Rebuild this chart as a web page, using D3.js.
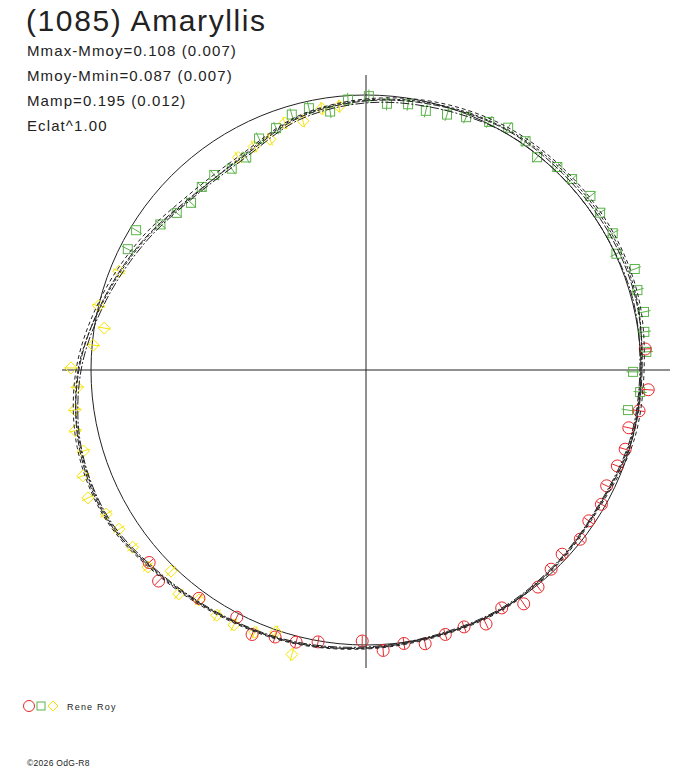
<!DOCTYPE html>
<html>
<head>
<meta charset="utf-8">
<script src="https://cdn.jsdelivr.net/npm/d3@7"></script>
<style>
  body { margin: 0; background: #fff; }
  text { font-family: "Liberation Sans", Arial, sans-serif; fill: #222; }
</style>
</head>
<body>
<svg id="chart" width="688" height="768"></svg>
<script>
// Titre et statistiques
const title = "(1085) Amaryllis";
const statLines = [
  "Mmax-Mmoy=0.108 (0.007)",
  "Mmoy-Mmin=0.087 (0.007)",
  "Mamp=0.195 (0.012)",
  "Eclat^1.00"
];
const observer = "Rene Roy";
const copyright = "\u00a92026 OdG-R8";

// Observations : [phase (deg), delta mag]
const redObs = [
  [221.6,-0.068],[225.5,-0.095],[233.8,-0.036],[242.4,-0.018],[246.7,-0.059],
  [251.2,-0.032],[255.6,-0.027],[260.0,-0.005],[269.2,0.018],[273.5,-0.027],
  [277.9,-0.005],[282.2,-0.023],[286.7,-0.005],[290.9,0.000],[295.3,-0.027],
  [299.7,0.005],[304.0,-0.032],[308.4,-0.009],[312.9,0.014],[316.8,0.027],
  [321.7,0.009],[325.9,0.027],[330.3,0.018],[334.3,0.036],[339.1,0.027],
  [343.0,0.018],[347.6,0.027],[351.5,-0.005],[356.0,-0.036],[4.3,-0.023]
];
const greenObs = [
  [351.3,0.045],[355.4,0.000],[359.6,0.036],[3.7,-0.027],[7.8,-0.027],
  [11.8,-0.041],[16.4,-0.036],[20.6,-0.055],[24.9,-0.005],[29.0,-0.032],
  [33.9,-0.032],[37.8,-0.041],[42.8,-0.027],[46.7,-0.018],[51.2,0.009],
  [55.1,-0.018],[59.6,-0.027],[63.6,-0.009],[68.4,0.014],[72.4,0.032],
  [77.0,0.041],[81.0,0.027],[85.5,0.036],[89.4,0.005],[93.8,0.018],
  [97.9,0.064],[102.3,0.032],[106.2,0.041],[110.4,0.077],[114.8,0.091],
  [119.4,0.141],[123.7,0.150],[127.9,0.127],[131.9,0.132],[136.3,0.150],
  [140.3,0.132],[144.7,0.105],[148.7,0.027],[153.1,0.036]
];
const yellowObs = [
  [95.8,0.045],[99.6,0.045],[104.2,0.082],[108.2,0.068],[112.6,0.114],
  [116.6,0.114],[121.0,0.123],[158.2,0.041],[166.5,0.000],[170.9,0.045],
  [174.8,0.005],[179.6,-0.091],[183.4,-0.064],[187.8,-0.086],[191.8,-0.100],
  [196.0,-0.086],[200.5,-0.123],[204.7,-0.141],[209.0,-0.100],[212.8,-0.086],
  [217.2,-0.082],[222.1,-0.086],[225.9,-0.023],[230.1,-0.077],[234.0,-0.041],
  [238.7,-0.055],[242.6,-0.055],[247.0,-0.045],[251.0,-0.009],[255.4,-0.086]
];
const obsErr = { red: 0.025, green: 0.03, yellow: 0.03 };

// Courbes ajustées (phase en degrés)
const curvePhases = [0,15,30,45,60,75,90,105,120,135,150,165,180,195,210,225,240,255,270,285,300,315,330,345];
const curveA = [-0.005,-0.018,-0.018,-0.014,-0.014,0.005,0.027,0.064,0.132,0.132,0.077,0.014,-0.055,-0.100,-0.109,-0.068,-0.045,-0.032,-0.014,0.000,0.000,0.014,0.023,0.000];
const curveB = [-0.014,-0.032,-0.036,-0.032,-0.027,-0.009,0.018,0.055,0.118,0.118,0.064,0.000,-0.068,-0.109,-0.114,-0.077,-0.050,-0.036,-0.018,-0.005,-0.005,0.009,0.018,-0.009];
const curveC = [0.005,-0.005,0.000,0.000,0.000,0.018,0.036,0.073,0.141,0.141,0.091,0.027,-0.045,-0.091,-0.100,-0.064,-0.041,-0.027,-0.009,0.005,0.005,0.018,0.027,0.009];
const curveD = [0.000,-0.023,-0.027,-0.023,-0.018,0.000,0.023,0.059,0.127,0.136,0.082,0.018,-0.059,-0.095,-0.105,-0.073,-0.045,-0.032,-0.014,0.000,0.000,0.014,0.023,0.005];

const colors = { red: "#e8262a", green: "#5cb34a", yellow: "#f7e400" };

const svg = d3.select("#chart");
const cx = 366, cy = 370;

// magnitude -> rayon (plus brillant vers l'extérieur)
const rScale = d3.scaleLinear().domain([0, 0.1]).range([275, 253]);
const aScale = d3.scaleLinear().domain([0, 360]).range([0, 2 * Math.PI]);

function pos(phase, mag) {
  const a = aScale(phase), r = rScale(mag);
  return [cx + r * Math.cos(a), cy - r * Math.sin(a)];
}

const g = svg.append("g");

// Axes
g.append("line").attr("x1", 62).attr("x2", 670).attr("y1", cy).attr("y2", cy)
  .attr("stroke", "#222").attr("stroke-width", 1);
g.append("line").attr("x1", cx).attr("x2", cx).attr("y1", 75).attr("y2", 668)
  .attr("stroke", "#222").attr("stroke-width", 1);

// Cercle de référence (Mmoy)
g.append("circle").attr("cx", cx).attr("cy", cy).attr("r", rScale(0))
  .attr("fill", "none").attr("stroke", "#222").attr("stroke-width", 1);

// Observations
function drawSeries(data, color, err, shape) {
  const sg = g.append("g").attr("stroke", color).attr("fill", "none").attr("stroke-width", 1);
  data.forEach(d => {
    const p0 = pos(d[0], d[1] - err), p1 = pos(d[0], d[1] + err);
    sg.append("line").attr("x1", p0[0]).attr("y1", p0[1]).attr("x2", p1[0]).attr("y2", p1[1]);
    const p = pos(d[0], d[1]);
    if (shape === "circle") {
      sg.append("circle").attr("cx", p[0]).attr("cy", p[1]).attr("r", 6);
    } else if (shape === "square") {
      sg.append("rect").attr("x", p[0] - 4.5).attr("y", p[1] - 4.5).attr("width", 9).attr("height", 9);
    } else {
      sg.append("path").attr("d", `M${p[0]},${p[1] - 6}L${p[0] + 6},${p[1]}L${p[0]},${p[1] + 6}L${p[0] - 6},${p[1]}Z`);
    }
  });
}
drawSeries(yellowObs, colors.yellow, obsErr.yellow, "diamond");
drawSeries(greenObs, colors.green, obsErr.green, "square");
drawSeries(redObs, colors.red, obsErr.red, "circle");

// Courbes
const radial = d3.lineRadial()
  .angle(d => Math.PI / 2 - aScale(d[0]))
  .radius(d => rScale(d[1]))
  .curve(d3.curveCatmullRomClosed);

const curves = [
  { v: curveA, dash: "7,2" },
  { v: curveB, dash: "4,3" },
  { v: curveC, dash: "9,2,2,2" },
  { v: curveD, dash: "3,2" }
];
curves.forEach(c => {
  g.append("path")
    .attr("transform", `translate(${cx},${cy})`)
    .attr("d", radial(curvePhases.map((ph, i) => [ph, c.v[i]])))
    .attr("fill", "none").attr("stroke", "#222").attr("stroke-width", 1)
    .attr("stroke-dasharray", c.dash);
});

// Textes
svg.append("text").attr("x", 26).attr("y", 31).attr("font-size", 30)
  .attr("letter-spacing", 1.6).text(title);
svg.selectAll("text.stat").data(statLines).enter().append("text")
  .attr("class", "stat")
  .attr("x", 27).attr("y", (d, i) => 56 + i * 25)
  .attr("font-size", 15).attr("letter-spacing", 1.1)
  .text(d => d);

// Légende
const lg = svg.append("g").attr("fill", "none").attr("stroke-width", 1);
lg.append("circle").attr("cx", 29).attr("cy", 706).attr("r", 5.5).attr("stroke", colors.red);
lg.append("rect").attr("x", 37).attr("y", 702).attr("width", 8).attr("height", 8).attr("stroke", colors.green);
lg.append("path").attr("d", "M53,701L58,706L53,711L48,706Z").attr("stroke", colors.yellow);
svg.append("text").attr("x", 67).attr("y", 710).attr("font-size", 9)
  .attr("letter-spacing", 1.2).text(observer);
svg.append("text").attr("x", 27).attr("y", 766).attr("font-size", 8.5)
  .attr("letter-spacing", 0.3).text(copyright);
</script>
</body>
</html>
